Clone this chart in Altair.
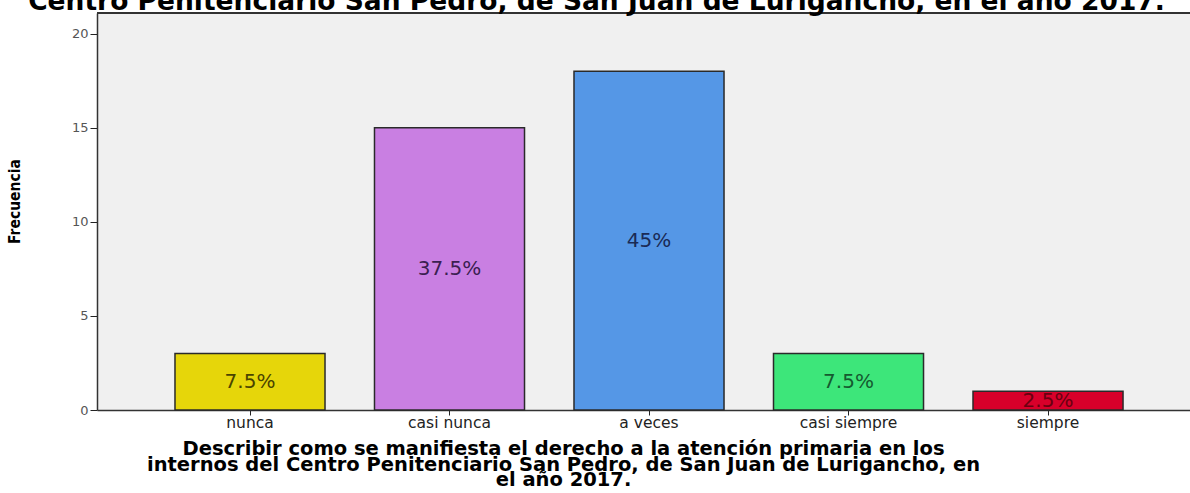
import altair as alt
import pandas as pd

categories = ["nunca", "casi nunca", "a veces", "casi siempre", "siempre"]
frecuencia = [3, 15, 18, 3, 1]
porcentaje = ["7.5%", "37.5%", "45%", "7.5%", "2.5%"]
bar_colors = ["#e6d60a", "#c97fe2", "#5597e6", "#3de67a", "#d8002a"]
label_colors = ["#4a4400", "#3a2050", "#1a2a55", "#155a30", "#6a0010"]

df = pd.DataFrame({
    "cat": categories,
    "freq": frecuencia,
    "pct": porcentaje,
    "mid": [v / 2 for v in frecuencia],
})

W, H = 1093, 397
SANS = "DejaVu Sans, Liberation Sans, sans-serif"

x = alt.X("cat:N", sort=categories,
          scale=alt.Scale(paddingInner=0.248, paddingOuter=0.3633, align=0.538),
          axis=alt.Axis(
              title=["Describir como se manifiesta el derecho a la atención primaria en los",
                     "internos del Centro Penitenciario San Pedro, de San Juan de Lurigancho, en",
                     "el año 2017."],
              titleFont=SANS, titleFontSize=19.5, titleFontWeight="bold",
              titleColor="#000000", titleLineHeight=15.5, titlePadding=9,
              titleX=466, titleAnchor="middle",
              labelAngle=0, labelFont=SANS, labelFontSize=15.5,
              labelColor="#222222", labelPadding=0,
              tickSize=5, tickColor="#222222", domainColor="#333333", domainWidth=1.5))

y = alt.Y("freq:Q",
          scale=alt.Scale(domain=[0, 21.1], nice=False),
          axis=alt.Axis(
              title="Frecuencia",
              titleFont="DejaVu Sans Condensed, Liberation Sans Narrow, sans-serif",
              titleFontSize=15.5, titleFontWeight="bold", titleColor="#000000",
              titlePadding=49, titleY=188,
              values=[0, 5, 10, 15, 20], labelFont=SANS,
              labelFontSize=13, labelColor="#555555", labelPadding=2,
              tickSize=7, tickColor="#222222", domainColor="#333333",
              domainWidth=1.5, grid=False))

bars = alt.Chart(df).mark_bar(stroke="#2a2a2a", strokeWidth=1.5).encode(
    x=x, y=y,
    color=alt.Color("cat:N", sort=categories,
                    scale=alt.Scale(domain=categories, range=bar_colors),
                    legend=None),
)

labels = alt.Chart(df).mark_text(font=SANS, fontSize=20,
                                 baseline="middle").encode(
    x=alt.X("cat:N", sort=categories),
    y=alt.Y("mid:Q"),
    text="pct:N",
    color=alt.Color("cat:N", sort=categories,
                    scale=alt.Scale(domain=categories, range=label_colors),
                    legend=None),
)

top = alt.Chart(df).mark_rule(color="#333333", strokeWidth=1.5).encode(
    x=alt.value(0), x2=alt.value(W), y=alt.value(0))

chart = alt.layer(bars, labels, top).resolve_scale(color="independent").properties(
    width=W, height=H,
    title=alt.TitleParams(
        "Centro Penitenciario San Pedro, de San Juan de Lurigancho, en el año 2017.",
        font=SANS, fontSize=26.5, fontWeight="bold", color="#000000",
        anchor="middle", dx=-47, offset=-3),
    autosize=alt.AutoSizeParams(type="none"),
    padding={"left": 97, "top": 13, "right": 0, "bottom": 83},
    background="#ffffff",
).configure_view(fill="#f0f0f0", stroke=None)

chart.save("out.html", embed_options={"renderer": "svg", "actions": False})
